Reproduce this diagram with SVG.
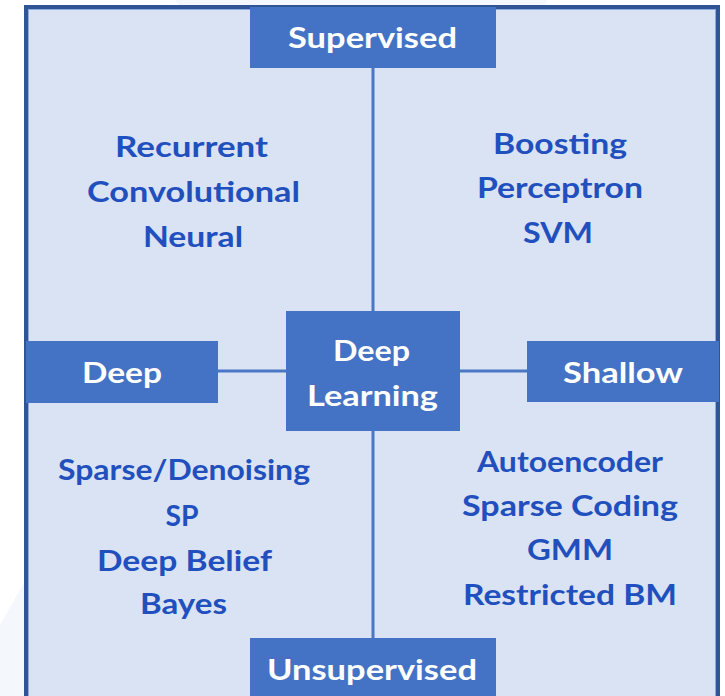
<svg xmlns="http://www.w3.org/2000/svg" width="725" height="696" viewBox="0 0 725 696">
  <style>
    .box { fill: #4472C4; }
    .head { font-family: Lato, "Open Sans", "Liberation Sans", sans-serif; font-weight: 700; font-size: 29px; fill: #FFFFFF; text-anchor: middle; }
    .item { font-family: Lato, "Open Sans", "Liberation Sans", sans-serif; font-weight: 700; font-size: 29px; fill: #2150BE; text-anchor: middle; }
    .link { stroke: #4A76C6; stroke-width: 3; fill: none; }
  </style>

  <!-- page background with faint backdrop shapes -->
  <rect x="0" y="0" width="725" height="696" fill="#FFFFFF"/>
  <polygon points="175,0 547,0 545,6 180,6" fill="#F4F7FB"/>
  <polygon points="0,625 24,583 24,696 0,696" fill="#F4F7FB"/>

  <!-- quadrant panel -->
  <rect x="26" y="7" width="692" height="720" fill="#DAE3F3" stroke="#2F5597" stroke-width="4"/>
  <rect x="28.5" y="9.5" width="687" height="720" fill="none" stroke="#8FAADC" stroke-width="1"/>

  <!-- connectors -->
  <g id="connectors">
    <line class="link" x1="373" y1="68" x2="373" y2="638"/>
    <line class="link" x1="218" y1="371" x2="527" y2="371"/>
  </g>

  <!-- axis labels -->
  <g id="supervised">
    <rect class="box" x="250" y="7" width="246" height="61"/>
    <text class="head" x="372.5" y="48" textLength="169" lengthAdjust="spacingAndGlyphs">Supervised</text>
  </g>
  <g id="deep">
    <rect class="box" x="26" y="341" width="192" height="62"/>
    <text class="head" x="122" y="383" textLength="80" lengthAdjust="spacingAndGlyphs">Deep</text>
  </g>
  <g id="shallow">
    <rect class="box" x="527" y="341" width="192" height="61"/>
    <text class="head" x="623" y="383" textLength="120" lengthAdjust="spacingAndGlyphs">Shallow</text>
  </g>
  <g id="unsupervised">
    <rect class="box" x="250" y="638" width="246" height="70"/>
    <text class="head" x="372" y="680" textLength="210" lengthAdjust="spacingAndGlyphs">Unsupervised</text>
  </g>
  <g id="deep-learning">
    <rect class="box" x="286" y="311" width="174" height="120"/>
    <text class="head" x="371.5" y="361" textLength="77" lengthAdjust="spacingAndGlyphs">Deep</text>
    <text class="head" x="372.5" y="406" textLength="131" lengthAdjust="spacingAndGlyphs">Learning</text>
  </g>

  <!-- quadrant contents -->
  <g id="supervised-deep">
    <text class="item" x="191.5" y="157" textLength="153" lengthAdjust="spacingAndGlyphs">Recurrent</text>
    <text class="item" x="193.5" y="202" textLength="213" lengthAdjust="spacingAndGlyphs">Convolutional</text>
    <text class="item" x="193" y="247" textLength="100" lengthAdjust="spacingAndGlyphs">Neural</text>
  </g>
  <g id="supervised-shallow">
    <text class="item" x="560" y="154" textLength="134" lengthAdjust="spacingAndGlyphs">Boosting</text>
    <text class="item" x="560" y="198" textLength="166" lengthAdjust="spacingAndGlyphs">Perceptron</text>
    <text class="item" x="558" y="243" textLength="70" lengthAdjust="spacingAndGlyphs">SVM</text>
  </g>
  <g id="unsupervised-deep">
    <text class="item" x="184" y="480" textLength="252" lengthAdjust="spacingAndGlyphs">Sparse/Denoising</text>
    <text class="item" x="182" y="526" textLength="33" lengthAdjust="spacingAndGlyphs">SP</text>
    <text class="item" x="184.5" y="571" textLength="175" lengthAdjust="spacingAndGlyphs">Deep Belief</text>
    <text class="item" x="183.5" y="614" textLength="87" lengthAdjust="spacingAndGlyphs">Bayes</text>
  </g>
  <g id="unsupervised-shallow">
    <text class="item" x="570" y="472" textLength="186" lengthAdjust="spacingAndGlyphs">Autoencoder</text>
    <text class="item" x="570" y="516" textLength="216" lengthAdjust="spacingAndGlyphs">Sparse Coding</text>
    <text class="item" x="570" y="560" textLength="86" lengthAdjust="spacingAndGlyphs">GMM</text>
    <text class="item" x="570" y="605" textLength="214" lengthAdjust="spacingAndGlyphs">Restricted BM</text>
  </g>
</svg>
